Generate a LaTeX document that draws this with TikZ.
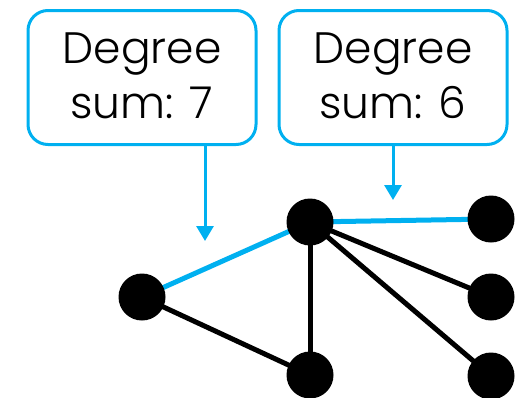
\documentclass[tikz,border=0pt]{standalone}
\usepackage{fontspec}
\setmainfont{Poppins}[UprightFont=* Light]
\usetikzlibrary{arrows.meta}
\definecolor{hl}{HTML}{00B0F0}
\tikzset{
  vert/.style={circle, fill=black, minimum size=47pt, inner sep=0pt},
  edge/.style={line width=5pt, black},
  hledge/.style={line width=5pt, hl},
  callout/.style={draw=hl, line width=3pt, rounded corners=20pt, minimum width=228pt, minimum height=134pt, inner sep=0pt},
  calltext/.style={align=center, font=\fontsize{44}{55}\selectfont, inner sep=0pt},
  pointer/.style={hl, line width=3pt, -{Triangle[width=17pt,length=15pt]}}
}
\begin{document}
\begin{tikzpicture}[x=1pt, y=-1pt]
  \useasboundingbox (0,0) rectangle (526,397);

  % callout boxes
  \node[callout] (b1) at (142,77.5) {};
  \node[callout] (b2) at (393,77.5) {};
  \node[calltext] (t1) at (142,76) {Degree\\sum: 7};
  \node[calltext] (t2) at (393,76) {Degree\\sum: 6};

  % graph vertices
  \coordinate (pa) at (142,297);
  \coordinate (pb) at (310,222);
  \coordinate (pc) at (310,375);
  \coordinate (pd) at (491,219);
  \coordinate (pe) at (491,297);
  \coordinate (pf) at (491,376);

  % edges
  \draw[hledge] (pa) -- (pb);
  \draw[hledge] (pb) -- (pd);
  \draw[edge] (pa) -- (pc);
  \draw[edge] (pb) -- (pc);
  \draw[edge] (pb) -- (pe);
  \draw[edge] (pb) -- (pf);

  \node[vert] (a) at (pa) {};
  \node[vert] (b) at (pb) {};
  \node[vert] (c) at (pc) {};
  \node[vert] (d) at (pd) {};
  \node[vert] (e) at (pe) {};
  \node[vert] (f) at (pf) {};

  % pointers from callouts to highlighted edges
  \coordinate (tip1) at (205,241);
  \coordinate (tip2) at (393,200);
  \draw[pointer] (b1.south -| tip1) -- (tip1);
  \draw[pointer] (b2.south -| tip2) -- (tip2);
\end{tikzpicture}
\end{document}
